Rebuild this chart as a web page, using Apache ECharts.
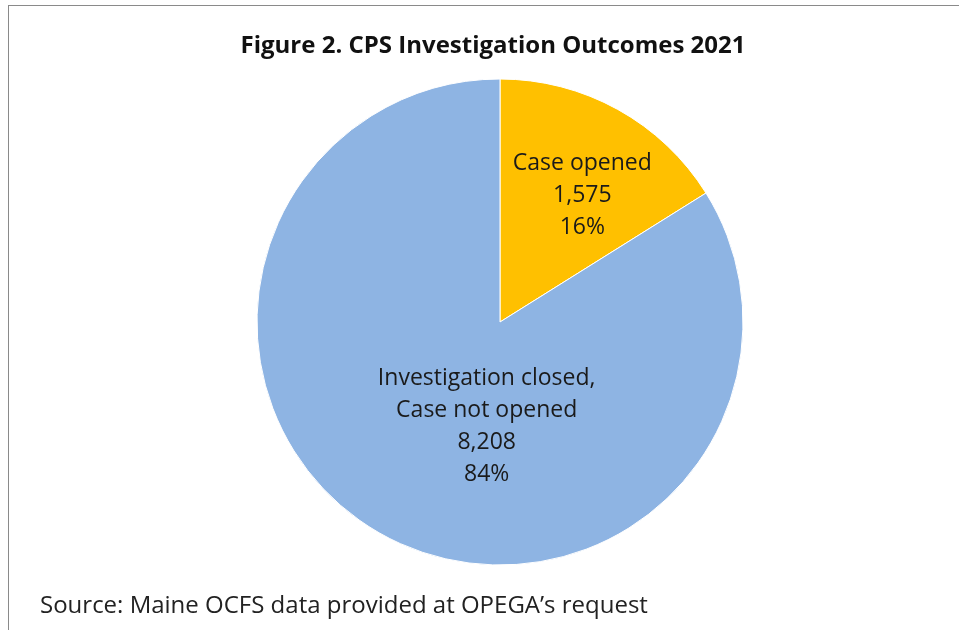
<!DOCTYPE html>
<html>
<head>
<meta charset="utf-8">
<script src="https://cdn.jsdelivr.net/npm/echarts@6/dist/echarts.min.js"></script>
<style>
  html, body { margin: 0; padding: 0; background: #fff; }
  #frame { position: absolute; left: 8px; top: 5px; width: 1000px; height: 700px; border-left: 1px solid #8a8a8a; border-top: 1px solid #8a8a8a; }
  #chart { position: absolute; left: 0; top: 0; width: 959px; height: 630px; }
</style>
</head>
<body>
<div id="frame"></div>
<div id="chart"></div>
<script>
const categories = ["Case opened", "Investigation closed,\nCase not opened"];
const counts = [1575, 8208];
const sliceColors = ["#FFC000", "#8EB4E3"];
const titleText = "Figure 2. CPS Investigation Outcomes 2021";
const sourceText = "Source: Maine OCFS data provided at OPEGA\u2019s request";

var chart = echarts.init(document.getElementById("chart"));
var total = counts.reduce((a, b) => a + b, 0);

var option = {
  backgroundColor: "transparent",
  textStyle: { fontFamily: "Open Sans" },
  title: [
    {
      text: titleText,
      left: 488,
      top: 29,
      textAlign: "center",
      textStyle: { fontSize: 24, fontWeight: "bold", color: "#111", fontFamily: "Open Sans" },
    },
    {
      text: sourceText,
      left: 35,
      top: 589,
      textStyle: { fontSize: 24, fontWeight: "normal", color: "#222", fontFamily: "Open Sans", letterSpacing: 0 },
    },
  ],
  series: [
    {
      type: "pie",
      center: [500, 322],
      radius: [0, 243],
      startAngle: 90,
      clockwise: true,
      silent: true,
      itemStyle: { borderColor: "#fff", borderWidth: 1 },
      label: {
        show: true,
        position: "inside",
        color: "#1a1a1a",
        fontSize: 23,
        lineHeight: 32,
        fontFamily: "Open Sans",
        formatter: function (p) {
          return p.name + "\n" + p.value.toLocaleString("en-US") + "\n" + Math.round((p.value / total) * 100) + "%";
        },
      },
      labelLayout: function (params) {
        if (params.dataIndex === 0) return { dx: 22, dy: -18 };
        return { dx: 47, dy: -4 };
      },
      data: categories.map((c, i) => ({ name: c, value: counts[i], itemStyle: { color: sliceColors[i] } })),
    },
  ],
};
option && chart.setOption(option);
</script>
</body>
</html>
